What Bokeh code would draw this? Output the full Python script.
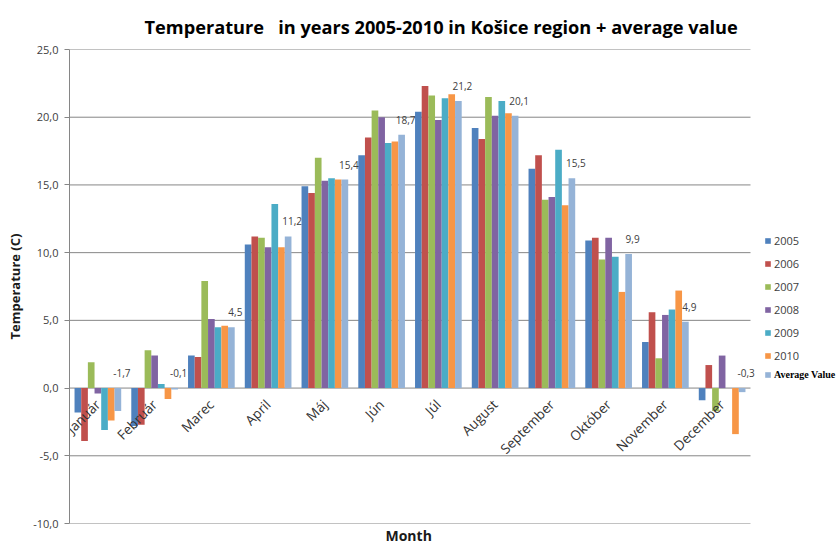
import numpy as np
from bokeh.plotting import figure
from bokeh.models import (Range1d, FixedTicker, CustomJSTickFormatter, Legend,
                          LegendItem, ColumnDataSource, Title)
from bokeh.core.properties import value
from bokeh.embed import file_html
from bokeh.resources import INLINE

# ---------------- data ----------------
months = ["Január", "Február", "Marec", "April", "Máj", "Jún", "Júl",
          "August", "September", "Október", "November", "December"]
y2005 = [-1.8, -2.8, 2.4, 10.6, 14.9, 17.2, 20.4, 19.2, 16.2, 10.9, 3.4, -0.9]
y2006 = [-3.9, -2.7, 2.3, 11.2, 14.4, 18.5, 22.3, 18.4, 17.2, 11.1, 5.6, 1.7]
y2007 = [1.9, 2.8, 7.9, 11.1, 17.0, 20.5, 21.6, 21.5, 13.9, 9.5, 2.2, -1.7]
y2008 = [-0.4, 2.4, 5.1, 10.4, 15.3, 20.0, 19.8, 20.1, 14.1, 11.1, 5.4, 2.4]
y2009 = [-3.1, 0.3, 4.5, 13.6, 15.5, 18.1, 21.4, 21.2, 17.6, 9.7, 5.8, 0.0]
y2010 = [-2.4, -0.8, 4.6, 10.4, 15.4, 18.2, 21.7, 20.3, 13.5, 7.1, 7.2, -3.4]
average = [-1.7, -0.1, 4.5, 11.2, 15.4, 18.7, 21.2, 20.1, 15.5, 9.9, 4.9, -0.3]
series_names = ["2005", "2006", "2007", "2008", "2009", "2010", "Average Value"]
yticks = [-10, -5, 0, 5, 10, 15, 20, 25]

colors = ["#4F81BD", "#C0504D", "#9BBB59", "#8064A2", "#4BACC6", "#F79646", "#95B3D7"]
series = [y2005, y2006, y2007, y2008, y2009, y2010, average]

# ---------------- layout ----------------
W, H = 838, 544
LEFT = 69
PLOT_RIGHT_PX = 750
n = len(months)
xmax = n * (W - LEFT) / (PLOT_RIGHT_PX - LEFT)
bar_w = 0.1175

p = figure(width=W, height=H, output_backend="svg", toolbar_location=None,
           x_range=Range1d(0, xmax), y_range=Range1d(yticks[0], yticks[-1]),
           x_axis_location=None,
           min_border_left=LEFT, min_border_right=0, min_border_top=49,
           min_border_bottom=18)
p.outline_line_color = None
p.xgrid.visible = False
p.ygrid.visible = False
p.background_fill_color = "white"
p.border_fill_color = "white"

ax = p.yaxis[0]
ax.ticker = FixedTicker(ticks=yticks)
ax.formatter = CustomJSTickFormatter(code="return tick.toFixed(1).replace('.', ',');")
ax.axis_line_color = "#868686"
ax.major_tick_line_color = "#868686"
ax.major_tick_out = 5
ax.major_tick_in = 0
ax.minor_tick_line_color = None
ax.major_label_text_font = "Open Sans"
ax.major_label_text_font_size = "11px"
ax.major_label_text_color = "#404040"
ax.major_label_standoff = 6
ax.axis_label = "Temperature (C)"
ax.axis_label_text_font = "Open Sans"
ax.axis_label_text_font_style = "bold"
ax.axis_label_text_font_size = "13px"
ax.axis_label_text_color = "#1a1a1a"
ax.axis_label_standoff = 6

# gridlines (only across category area)
p.segment(x0=[0] * len(yticks), x1=[n] * len(yticks), y0=yticks, y1=yticks,
          line_color="#868686", line_width=1)

centers = np.arange(n) + 0.5
renderers = []
for k, (name, vals, c) in enumerate(zip(series_names, series, colors)):
    src = ColumnDataSource(dict(x=centers + (k - 3) * bar_w, top=vals))
    r = p.vbar(x="x", top="top", bottom=0, width=bar_w, source=src,
               fill_color=c, line_color=None)
    renderers.append(r)

# average value labels
lab_src = ColumnDataSource(dict(
    x=centers + 3 * bar_w,
    y=[max(v, 0) for v in average],
    t=[f"{v:.1f}".replace(".", ",") for v in average]))
p.text(x="x", y="y", text="t", source=lab_src, x_offset=4, y_offset=-15,
       text_align="center", text_baseline="middle",
       text_font=value("Open Sans"), text_font_size="10px", text_color="#404040")

# month labels (rotated)
m_src = ColumnDataSource(dict(x=centers, y=[0] * n, t=months))
p.text(x="x", y="y", text="t", source=m_src, angle=np.pi / 4,
       x_offset=0, y_offset=14, text_align="right", text_baseline="middle",
       text_font=value("Open Sans"), text_font_size="13.5px", text_color="#333333")

# title and x label
p.title.text = "Temperature\u00a0\u00a0 in years 2005-2010 in Košice region + average value"
p.title.text_font = "Open Sans"
p.title.text_font_style = "bold"
p.title.text_font_size = "18.2px"
p.title.align = "left"
p.title.vertical_align = "top"
p.title.offset = 75
p.title.standoff = 18
p.title.text_color = "#000000"

p.add_layout(Title(text="Month", align="left", offset=316, standoff=0,
                   text_font="Open Sans", text_font_style="bold",
                   text_font_size="14px", text_color="#1a1a1a"), "below")

# legends
leg1 = Legend(items=[LegendItem(label=series_names[i], renderers=[renderers[i]])
                     for i in range(6)],
              location=(695, 160), orientation="vertical",
              glyph_width=7, glyph_height=7, label_height=14, spacing=8,
              label_standoff=3, padding=0, margin=0,
              border_line_color=None, background_fill_alpha=0,
              label_text_font="Open Sans", label_text_font_size="11px",
              label_text_color="#404040")
leg2 = Legend(items=[LegendItem(label=series_names[6], renderers=[renderers[6]])],
              location=(695, 142), orientation="vertical",
              glyph_width=7, glyph_height=7, label_height=14, spacing=8,
              label_standoff=3, padding=0, margin=0,
              border_line_color=None, background_fill_alpha=0,
              label_text_font="Liberation Serif", label_text_font_style="bold",
              label_text_font_size="10px", label_text_color="#000000")
p.add_layout(leg1, "center")
p.add_layout(leg2, "center")

open("out.html", "w").write(file_html(p, INLINE))
